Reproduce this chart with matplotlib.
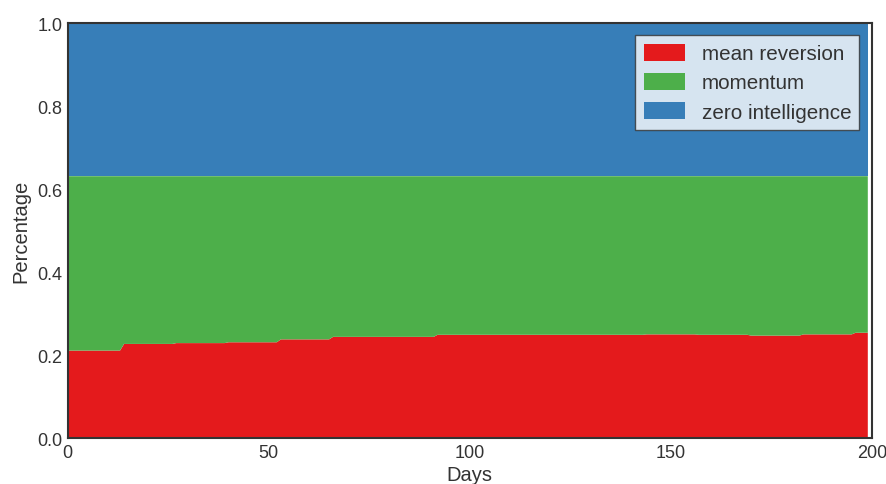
import numpy as np
import matplotlib
matplotlib.use("Agg")
import matplotlib.pyplot as plt

# Data
labels = ["mean reversion", "momentum", "zero intelligence"]
colors = ["#e41a1c", "#4daf4a", "#377eb8"]
n_days = 200
seg_lengths = [14, 13, 13, 13, 13, 13, 13, 13, 13, 13, 13, 13, 13, 13, 13, 4]
mean_rev_levels = [0.211, 0.227, 0.229, 0.231, 0.238, 0.244, 0.244, 0.249,
                   0.249, 0.249, 0.249, 0.250, 0.249, 0.247, 0.250, 0.254]
top_of_momentum = 0.631

days = np.arange(n_days)
mean_rev = np.repeat(mean_rev_levels, seg_lengths)
momentum = top_of_momentum - mean_rev
zero_int = np.full(n_days, 1.0 - top_of_momentum)

plt.rcParams['font.family'] = ['Liberation Sans', 'DejaVu Sans']
fig = plt.figure(figsize=(8.86, 4.85), dpi=100)
ax = fig.add_axes([0.0765, 0.0945, 0.9075, 0.856])
ax.stackplot(days, mean_rev, momentum, zero_int, colors=colors, labels=labels, linewidth=0)
ax.set_xlim(0, 200)
ax.set_ylim(0, 1.0)
ax.set_xticks([0, 50, 100, 150, 200])
ax.set_yticks([0.0, 0.2, 0.4, 0.6, 0.8, 1.0])
ax.tick_params(length=0, labelsize=13, colors="#333333", pad=4)
for s in ax.spines.values():
    s.set_color("#333333")
    s.set_linewidth(1.5)
ax.set_xlabel("Days", fontsize=14.5, color="#333333", labelpad=3)
ax.set_ylabel("Percentage", fontsize=14.5, color="#333333", labelpad=5)
leg = ax.legend(loc="upper right", fontsize=14.9, frameon=True, fancybox=False,
                handlelength=2.0, handleheight=0.9, borderpad=0.4, labelspacing=0.45,
                borderaxespad=0.6)
leg.get_frame().set_facecolor("white")
leg.get_frame().set_alpha(0.8)
leg.get_frame().set_edgecolor("#333333")
leg.get_frame().set_linewidth(1.0)
for t in leg.get_texts():
    t.set_color("#333333")
fig.savefig("out.png", dpi=100)
